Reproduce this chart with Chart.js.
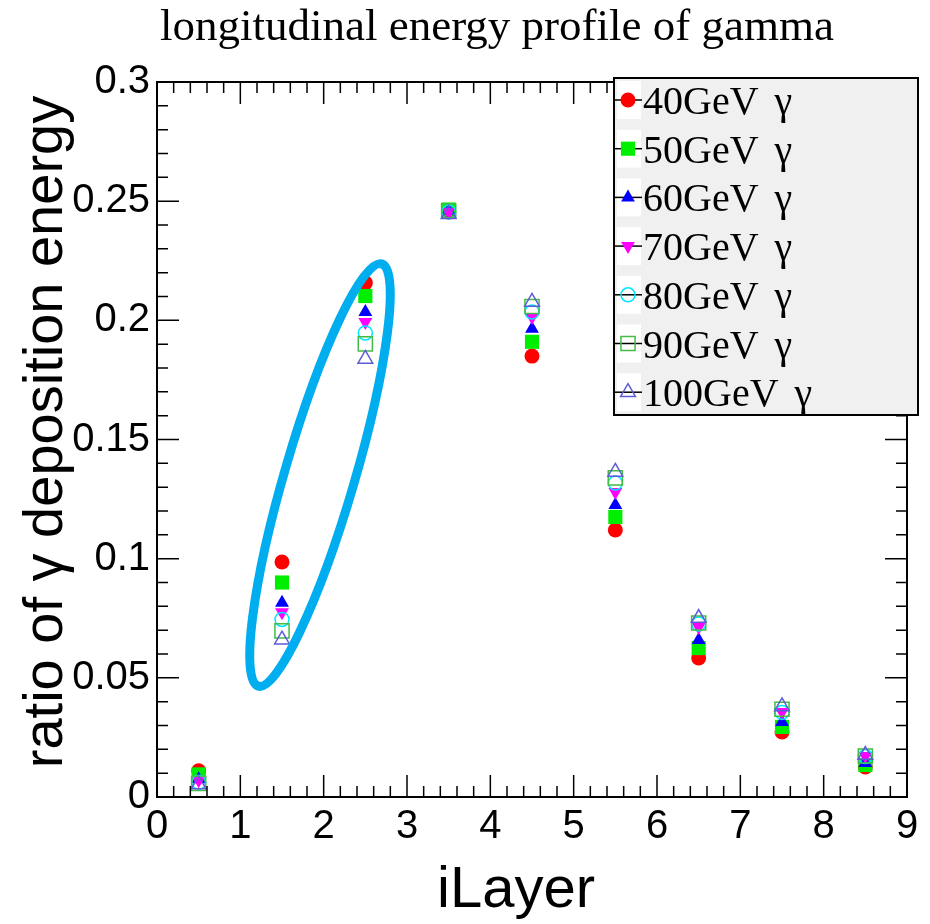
<!DOCTYPE html>
<html>
<head>
<meta charset="utf-8">
<script src="https://cdn.jsdelivr.net/npm/chart.js@4/dist/chart.umd.min.js"></script>
<style>
  html, body { margin: 0; padding: 0; background: #fff; }
  #wrap { width: 930px; height: 924px; }
</style>
</head>
<body>
<div id="wrap"><canvas id="profile" width="930" height="924"></canvas></div>
<script>
// layer centres (x) and ratio of deposited energy per beam energy
const layers = [0.5, 1.5, 2.5, 3.5, 4.5, 5.5, 6.5, 7.5, 8.5];
const e40  = [0.0110, 0.0986, 0.2157, 0.2455, 0.1850, 0.1120, 0.0583, 0.0273, 0.0126];
const e50  = [0.0095, 0.0900, 0.2102, 0.2465, 0.1910, 0.1175, 0.0625, 0.0294, 0.0134];
const e60  = [0.0075, 0.0815, 0.2035, 0.2460, 0.1965, 0.1225, 0.0659, 0.0315, 0.0143];
const e70  = [0.0070, 0.0775, 0.1993, 0.2455, 0.2014, 0.1280, 0.0713, 0.0357, 0.0172];
const e80  = [0.0062, 0.0745, 0.1947, 0.2455, 0.2035, 0.1317, 0.0726, 0.0355, 0.0170];
const e90  = [0.0057, 0.0697, 0.1901, 0.2460, 0.2058, 0.1339, 0.0730, 0.0368, 0.0172];
const e100 = [0.0052, 0.0660, 0.1838, 0.2445, 0.2077, 0.1364, 0.0751, 0.0380, 0.0176];

const seriesLabels = ['40GeV', '50GeV', '60GeV', '70GeV', '80GeV', '90GeV', '100GeV'];
const seriesValues = [e40, e50, e60, e70, e80, e90, e100];

// marker styles (ROOT-like)
const markers = [
  { color: '#ff0000', style: 'circle',   rot: 0,   fill: true,  r: 7.5 },
  { color: '#00ee00', style: 'rect',     rot: 0,   fill: true,  r: 10 },
  { color: '#0000ff', style: 'triangle', rot: 0,   fill: true,  r: 8 },
  { color: '#ff00ff', style: 'triangle', rot: 180, fill: true,  r: 8 },
  { color: '#00e5ff', style: 'circle',   rot: 0,   fill: false, r: 7 },
  { color: '#44bb44', style: 'rect',     rot: 0,   fill: false, r: 10 },
  { color: '#5c5cd6', style: 'triangle', rot: 0,   fill: false, r: 8.5 }
];

const xTicks = [0, 1, 2, 3, 4, 5, 6, 7, 8, 9];
const yTicks = [0, 0.05, 0.1, 0.15, 0.2, 0.25, 0.3];

const datasets = seriesValues.map((vals, i) => ({
  label: seriesLabels[i] + ' \u03b3',
  data: vals.map((v, j) => ({ x: layers[j], y: v })),
  showLine: false,
  pointStyle: markers[i].style,
  rotation: markers[i].rot,
  pointRadius: markers[i].r,
  pointHoverRadius: markers[i].r,
  pointBorderWidth: markers[i].fill ? 0 : 1.5,
  pointBorderColor: markers[i].color,
  pointBackgroundColor: markers[i].fill ? markers[i].color : 'rgba(0,0,0,0)',
  order: -i
}));

const frameAndText = {
  id: 'frameAndText',
  afterDraw(chart) {
    const { ctx, chartArea: a, scales: { x, y } } = chart;
    ctx.save();

    // frame
    ctx.strokeStyle = '#000';
    ctx.lineWidth = 2;
    ctx.strokeRect(a.left, a.top, a.right - a.left, a.bottom - a.top);

    // inward ticks on all four sides
    ctx.lineWidth = 1.5;
    ctx.beginPath();
    for (let k = 0; k <= 45; k++) {
      const px = x.getPixelForValue(k / 5);
      const len = k % 5 === 0 ? 22 : 11;
      ctx.moveTo(px, a.bottom); ctx.lineTo(px, a.bottom - len);
      ctx.moveTo(px, a.top);    ctx.lineTo(px, a.top + len);
    }
    for (let k = 0; k <= 30; k++) {
      const py = y.getPixelForValue(k / 100);
      const len = k % 5 === 0 ? 22 : 11;
      ctx.moveTo(a.left, py);  ctx.lineTo(a.left + len, py);
      ctx.moveTo(a.right, py); ctx.lineTo(a.right - len, py);
    }
    ctx.stroke();

    // highlight ellipse around layers 1-2
    const cx = x.getPixelForValue(1.956);
    const cy = y.getPixelForValue(0.1351);
    ctx.strokeStyle = '#00aeef';
    ctx.lineWidth = 9;
    ctx.beginPath();
    ctx.ellipse(cx, cy, 35, 220, 16.3 * Math.PI / 180, 0, Math.PI * 2);
    ctx.stroke();

    // title
    ctx.fillStyle = '#000';
    ctx.font = '45px "Liberation Serif"';
    ctx.textAlign = 'center';
    ctx.textBaseline = 'alphabetic';
    ctx.fillText('longitudinal energy profile of gamma', 497, 40);

    // axis titles
    ctx.font = '58px "Liberation Sans"';
    ctx.fillText('iLayer', 516, 907);
    ctx.save();
    ctx.translate(62, 432);
    ctx.rotate(-Math.PI / 2);
    ctx.font = '56px "Liberation Sans"';
    ctx.fillText('ratio of \u03b3 deposition energy', 0, 0);
    ctx.restore();

    // legend box
    const lx = 614, ly = 78, lw = 304, lh = 337;
    ctx.fillStyle = '#f0f0f0';
    ctx.fillRect(lx, ly, lw, lh);
    ctx.strokeStyle = '#000';
    ctx.lineWidth = 2;
    ctx.strokeRect(lx, ly, lw, lh);

    ctx.textAlign = 'left';
    ctx.font = '40px "Liberation Serif"';
    seriesLabels.forEach((lab, i) => {
      const ry = 100 + i * 48.7;
      const m = markers[i];
      ctx.fillStyle = '#fff';
      ctx.fillRect(617, ry - 19, 24, 38);
      ctx.strokeStyle = '#000';
      ctx.lineWidth = 1.5;
      ctx.beginPath();
      ctx.moveTo(613, ry); ctx.lineTo(642, ry);
      ctx.stroke();
      ctx.fillStyle = m.fill ? m.color : 'rgba(0,0,0,0)';
      ctx.strokeStyle = m.color;
      ctx.lineWidth = m.fill ? 0 : 1.5;
      Chart.helpers.drawPoint(ctx, {
        pointStyle: m.style, rotation: m.rot, radius: m.r, borderWidth: m.fill ? 0 : 1.5
      }, 628, ry);
      ctx.fillStyle = '#000';
      ctx.fillText(lab, 643, ry + 14);
      const w = ctx.measureText(lab).width;
      ctx.fillText('\u03b3', 643 + w + 16, ry + 14);
    });

    ctx.restore();
  }
};

new Chart(document.getElementById('profile'), {
  type: 'scatter',
  data: { datasets },
  plugins: [frameAndText],
  options: {
    responsive: false,
    animation: false,
    layout: { padding: { top: 82, right: 23, left: 0, bottom: 0 } },
    plugins: {
      legend: { display: false },
      tooltip: { enabled: false },
      title: { display: false }
    },
    scales: {
      x: {
        type: 'linear',
        min: 0, max: 9,
        afterFit: s => { s.height = 127; },
        afterBuildTicks: s => { s.ticks = xTicks.map(v => ({ value: v })); },
        grid: { display: false, drawTicks: false },
        border: { display: false },
        ticks: {
          padding: 6,
          color: '#000',
          font: { family: 'Liberation Sans', size: 40 },
          callback: v => String(v),
          maxRotation: 0
        }
      },
      y: {
        type: 'linear',
        min: 0, max: 0.3,
        afterFit: s => { s.width = 157; },
        afterBuildTicks: s => { s.ticks = yTicks.map(v => ({ value: v })); },
        grid: { display: false, drawTicks: false },
        border: { display: false },
        ticks: {
          padding: 7,
          color: '#000',
          font: { family: 'Liberation Sans', size: 40 },
          callback: v => String(parseFloat(v.toFixed(2)))
        }
      }
    }
  }
});
</script>
</body>
</html>
